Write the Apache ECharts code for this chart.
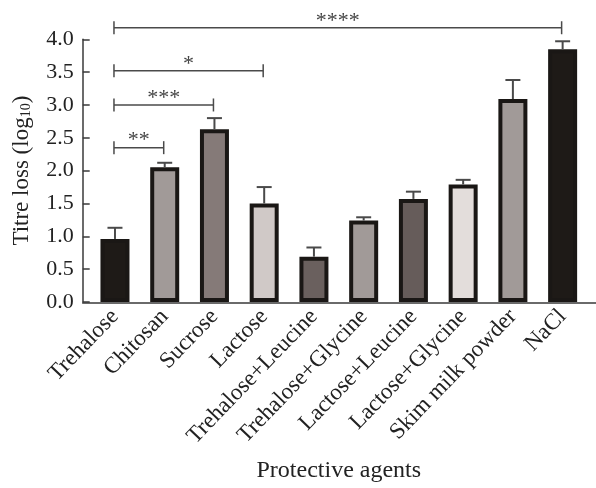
<!DOCTYPE html>
<html>
<head>
<meta charset="utf-8">
<script src="https://cdn.jsdelivr.net/npm/echarts@6/dist/echarts.min.js"></script>
<style>
  html, body { margin: 0; padding: 0; background: #ffffff; }
  #chart { width: 596px; height: 488px; }
</style>
</head>
<body>
<div id="chart"></div>
<script>
// Protective agents and their titre loss (log10), mean and SD
const categories = ['Trehalose', 'Chitosan', 'Sucrose', 'Lactose', 'Trehalose+Leucine',
  'Trehalose+Glycine', 'Lactose+Leucine', 'Lactose+Glycine', 'Skim milk powder', 'NaCl'];
const titreLoss = [0.96, 2.05, 2.63, 1.50, 0.69, 1.24, 1.57, 1.79, 3.09, 3.85];
const titreLossSD = [0.17, 0.07, 0.17, 0.25, 0.14, 0.05, 0.11, 0.07, 0.29, 0.12];
const barFills = ['#1e1a17', '#a19a98', '#857a78', '#d0c9c7', '#6a605e',
  '#a19a98', '#665c5a', '#e3dddb', '#a19a98', '#1e1a17'];

// Y axis range
const yMin = 0, yMax = 4, yStep = 0.5;

// Pairwise comparisons against trehalose
const compFrom = [0, 0, 0, 0];
const compTo = [1, 2, 3, 9];
const compLevel = [2.35, 3.0, 3.52, 4.176];
const compMarks = ['**', '***', '*', '****'];

const SERIF = '"Liberation Serif", "DejaVu Serif", serif';
const INK = '#222222';
const LINE = '#3a3a3a';

const chart = echarts.init(document.getElementById('chart'), null, { renderer: 'canvas' });

const option = {
  backgroundColor: '#ffffff',
  animation: false,
  grid: [
    { left: 90.1, width: 497.4, top: 39.3, height: 263.4 },
    { left: 82.7, right: 0, top: 39.3, height: 263.4 }
  ],
  xAxis: [
    {
      type: 'category',
      gridIndex: 0,
      data: categories,
      axisLine: { show: false },
      axisTick: { show: false },
      axisLabel: {
        rotate: 46, margin: 11, interval: 0,
        fontFamily: SERIF, fontSize: 23, color: INK
      },
      name: 'Protective agents',
      nameLocation: 'middle',
      nameGap: 157,
      nameTextStyle: { fontFamily: SERIF, fontSize: 24, color: INK }
    },
    {
      type: 'value',
      gridIndex: 1,
      min: 0, max: 1,
      axisLine: { show: true, lineStyle: { color: LINE, width: 1.5 } },
      axisTick: { show: false },
      axisLabel: { show: false },
      splitLine: { show: false }
    }
  ],
  yAxis: [
    {
      type: 'value',
      gridIndex: 0,
      min: yMin, max: yMax, interval: yStep,
      offset: 7.4,
      axisLine: { show: true, lineStyle: { color: LINE, width: 1.5 } },
      axisTick: { show: true, inside: true, length: 7, lineStyle: { color: LINE, width: 1.5 } },
      splitLine: { show: false },
      axisLabel: {
        margin: 9, fontFamily: SERIF, fontSize: 22, color: INK,
        formatter: v => v.toFixed(1)
      },
      name: '{t|Titre loss (log}{s|10}{t|)}',
      nameLocation: 'middle',
      nameRotate: 90,
      nameGap: 48,
      nameTextStyle: {
        rich: {
          t: { fontFamily: SERIF, fontSize: 23, color: INK, lineHeight: 26 },
          s: { fontFamily: SERIF, fontSize: 14, color: INK, lineHeight: 26, padding: [10, 0, 0, 0] }
        }
      }
    },
    {
      type: 'value',
      gridIndex: 1,
      min: 0, max: 1,
      show: false
    }
  ],
  series: [
    {
      type: 'bar',
      xAxisIndex: 0, yAxisIndex: 0,
      barWidth: 29,
      data: titreLoss.map((v, i) => ({
        value: v,
        itemStyle: { color: barFills[i], borderColor: '#1a1715', borderWidth: 4 }
      })),
      z: 2
    },
    {
      // Upper error bars (mean + SD)
      type: 'custom',
      xAxisIndex: 0, yAxisIndex: 0,
      clip: false,
      z: 3,
      data: titreLoss.map((v, i) => [i, v, v + titreLossSD[i]]),
      renderItem: (params, api) => {
        const base = api.coord([api.value(0), api.value(1)]);
        const top = api.coord([api.value(0), api.value(2)]);
        const half = 7.5;
        const style = { stroke: '#4a4a4a', lineWidth: 2 };
        return {
          type: 'group',
          children: [
            { type: 'line', shape: { x1: top[0], y1: base[1], x2: top[0], y2: top[1] }, style },
            { type: 'line', shape: { x1: top[0] - half, y1: top[1], x2: top[0] + half, y2: top[1] }, style }
          ]
        };
      }
    },
    {
      // Significance brackets
      type: 'custom',
      xAxisIndex: 0, yAxisIndex: 0,
      clip: false,
      z: 4,
      data: compFrom.map((f, k) => [f, compTo[k], compLevel[k], k]),
      renderItem: (params, api) => {
        const a = api.coord([api.value(0), api.value(2)]);
        const b = api.coord([api.value(1), api.value(2)]);
        const k = api.value(3);
        const x1 = a[0] - 1, x2 = b[0] - 1, y = a[1];
        const tk = 6.5;
        const style = { stroke: '#4a4a4a', lineWidth: 1.5 };
        return {
          type: 'group',
          children: [
            { type: 'line', shape: { x1: x1, y1: y, x2: x2, y2: y }, style },
            { type: 'line', shape: { x1: x1, y1: y - tk, x2: x1, y2: y + tk }, style },
            { type: 'line', shape: { x1: x2, y1: y - tk, x2: x2, y2: y + tk }, style },
            {
              type: 'text',
              style: {
                x: (x1 + x2) / 2, y: y - 7,
                text: compMarks[k],
                align: 'center', verticalAlign: 'middle',
                font: '22px ' + SERIF,
                fill: '#444444'
              }
            }
          ]
        };
      }
    }
  ]
};

chart.setOption(option);
</script>
</body>
</html>
